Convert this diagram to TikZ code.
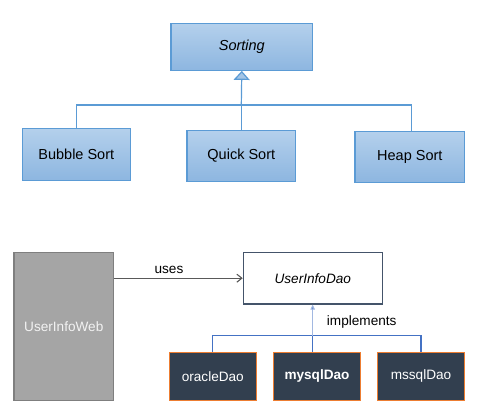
\documentclass[tikz,border=0pt]{standalone}
\usepackage{fontspec}
\setmainfont{Liberation Sans}
\usetikzlibrary{arrows.meta}
\definecolor{sortborder}{HTML}{5B9BD5}
\definecolor{sorttop}{HTML}{B4D0EC}
\definecolor{sortbot}{HTML}{8DB6E0}
\definecolor{webfill}{HTML}{A5A5A5}
\definecolor{webborder}{HTML}{7F7F7F}
\definecolor{daoborder}{HTML}{44546A}
\definecolor{implfill}{HTML}{323F4F}
\definecolor{implborder}{HTML}{ED7D31}
\definecolor{impline}{HTML}{4472C4}
\definecolor{usesline}{HTML}{595959}
\tikzset{
  sortbox/.style={draw=sortborder, line width=1.2pt, top color=sorttop, bottom color=sortbot,
    font=\fontsize{14.5}{17}\selectfont, inner sep=0pt},
  sortline/.style={draw=sortborder, line width=1.2pt},
  webbox/.style={draw=webborder, line width=1.2pt, fill=webfill, text=white!95!black,
    font=\fontsize{13.6}{16}\selectfont, inner sep=0pt},
  daobox/.style={draw=daoborder, line width=1.2pt, fill=white, font=\fontsize{13.6}{16}\selectfont\itshape, inner sep=0pt},
  implbox/.style={draw=implborder, line width=1.2pt, fill=implfill, text=white,
    font=\fontsize{13.6}{16}\selectfont, inner sep=0pt, minimum height=48pt},
  implline/.style={draw=impline, line width=1.1pt},
  lbl/.style={font=\fontsize{13.6}{16}\selectfont, inner sep=0pt}
}
\begin{document}
\begin{tikzpicture}[x=1pt,y=-1pt]
\useasboundingbox (0,0) rectangle (485,420);
% Sorting hierarchy
\node[sortbox, minimum width=141.7pt, minimum height=47pt] (sorting) at (241.8,46.8) {\itshape Sorting};
\node[sortbox, minimum width=108pt, minimum height=52pt] (bubble) at (76.3,154.3) {Bubble Sort};
\node[sortbox, minimum width=108.7pt, minimum height=51pt] (quick) at (241.3,155.8) {Quick Sort};
\node[sortbox, minimum width=109.7pt, minimum height=50.6pt] (heap) at (409.8,157) {Heap Sort};
\coordinate (jl) at (76.3,105);
\coordinate (jm) at (241.3,105);
\coordinate (jr) at (411.3,105);
\draw[sortline] (bubble.north) -- (jl) -- (jr) -- (heap.north -| jr);
\draw[sortline] (quick.north) -- (jm);
\draw[sortline, -{Triangle[width=16pt,length=9pt,fill=sortbot!80!white]}] (jm) -- (sorting.south);
% Dao diagram
\node[webbox, minimum width=99.7pt, minimum height=148pt] (web) at (63.8,326.3) {UserInfoWeb};
\node[daobox, minimum width=139pt, minimum height=51.7pt] (dao) at (312.8,278.2) {UserInfoDao};
\node[implbox, minimum width=87pt] (oracle) at (212.8,376.3) {oracleDao};
\node[implbox, minimum width=87.4pt] (mysql) at (317,376.3) {\bfseries mysqlDao};
\node[implbox, minimum width=86.6pt] (mssql) at (421,376.3) {mssqlDao};
\draw[usesline, line width=1.1pt, -{Straight Barb[length=5pt,width=8pt]}] (web.east |- dao.west) -- (dao.west);
\node[lbl, anchor=base] (uses) at (169,273) {uses};
\coordinate (ko) at (212.8,335.7);
\coordinate (km) at (312.7,335.7);
\coordinate (ks) at (421,335.7);
\draw[implline] (oracle.north) -- (ko) -- (ks) -- (mssql.north);
\draw[implline] (mysql.north -| km) -- (km);
\draw[draw=impline!50!white, line width=1pt, -{Triangle[length=5pt,width=4.5pt,fill=impline]}] (km) -- (dao.south -| km);
\node[lbl, anchor=base] (impl) at (361.7,325) {implements};
\end{tikzpicture}
\end{document}
